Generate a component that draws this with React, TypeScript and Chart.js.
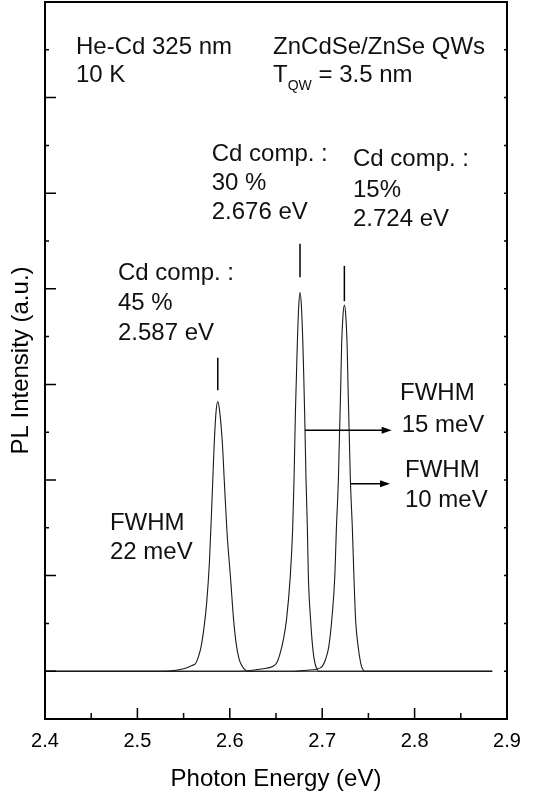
import React, { useEffect, useRef } from "react";
import { Chart, registerables } from "chart.js";

Chart.register(...registerables);

const FONT = "'Liberation Sans', Arial, Helvetica, sans-serif";
const NOTE_SIZE = 24;

// Axis extents
const energyMin = 2.4;
const energyMax = 2.9;
const energyStep = 0.1;
const intensityMin = -0.5;
const intensityMax = 7;
const intensityStep = 0.5;

// PL spectrum, Cd 45 %
const cd45Energy = [
  2.4, 2.527, 2.542, 2.552, 2.559, 2.563, 2.566, 2.569, 2.572, 2.575, 2.578,
  2.581, 2.583, 2.585, 2.587, 2.589, 2.592, 2.594, 2.597, 2.601, 2.604, 2.607,
  2.61, 2.613, 2.616, 2.619, 2.884,
];
const cd45Intensity = [
  0, 0, 0.01, 0.03, 0.06, 0.08, 0.15, 0.26, 0.45, 0.72, 1.15, 1.85, 2.35, 2.7,
  2.82, 2.72, 2.38, 2.0, 1.45, 0.95, 0.55, 0.28, 0.13, 0.06, 0.02, 0, 0,
];

// PL spectrum, Cd 30 %
const cd30Energy = [
  2.4, 2.611, 2.625, 2.636, 2.644, 2.648, 2.651, 2.654, 2.658, 2.6615, 2.6655,
  2.668, 2.6695, 2.671, 2.672, 2.673, 2.6745, 2.676, 2.6775, 2.679, 2.68, 2.681,
  2.6825, 2.684, 2.685, 2.6875, 2.69, 2.692, 2.694, 2.696, 2.884,
];
const cd30Intensity = [
  0, 0, 0.01, 0.025, 0.04, 0.06, 0.09, 0.17, 0.33, 0.55, 1.0, 1.48, 2.0, 2.7,
  3.05, 3.4, 3.8, 3.96, 3.82, 3.45, 3.1, 2.7, 2.0, 1.48, 1.0, 0.53, 0.22, 0.09,
  0.03, 0, 0,
];

// PL spectrum, Cd 15 %
const cd15Energy = [
  2.4, 2.669, 2.683, 2.694, 2.698, 2.7, 2.7035, 2.707, 2.7103, 2.7137, 2.7153,
  2.7175, 2.7202, 2.721, 2.7225, 2.724, 2.7255, 2.727, 2.7278, 2.7305, 2.7327,
  2.7343, 2.7362, 2.739, 2.7425, 2.744, 2.7456, 2.884,
];
const cd15Intensity = [
  0, 0, 0.01, 0.02, 0.035, 0.05, 0.12, 0.25, 0.53, 1.0, 1.48, 2.0, 3.05, 3.4,
  3.72, 3.83, 3.72, 3.4, 3.05, 2.0, 1.48, 1.0, 0.53, 0.25, 0.05, 0.02, 0, 0,
];

// Peak position marks
const peakEnergies = [2.587, 2.676, 2.724];
const peakMarkLow = [2.94, 4.12, 3.87];
const peakMarkHigh = [3.28, 4.47, 4.24];

type Part = { text: string; size?: number; dy?: number };
type Note = { x: number; y: number; parts: Part[] };

const notes: Note[] = [
  { x: 2.4335, y: 6.46, parts: [{ text: "He-Cd 325 nm" }] },
  { x: 2.4335, y: 6.165, parts: [{ text: "10 K" }] },
  { x: 2.6468, y: 6.46, parts: [{ text: "ZnCdSe/ZnSe QWs" }] },
  {
    x: 2.6468,
    y: 6.165,
    parts: [
      { text: "T" },
      { text: "QW", size: 14, dy: 8 },
      { text: " = 3.5 nm" },
    ],
  },
  { x: 2.5804, y: 5.34, parts: [{ text: "Cd comp. :" }] },
  { x: 2.5804, y: 5.03, parts: [{ text: "30 %" }] },
  { x: 2.5804, y: 4.725, parts: [{ text: "2.676 eV" }] },
  { x: 2.7333, y: 5.28, parts: [{ text: "Cd comp. :" }] },
  { x: 2.7333, y: 4.96, parts: [{ text: "15%" }] },
  { x: 2.7333, y: 4.66, parts: [{ text: "2.724 eV" }] },
  { x: 2.479, y: 4.09, parts: [{ text: "Cd comp. :" }] },
  { x: 2.479, y: 3.776, parts: [{ text: "45 %" }] },
  { x: 2.479, y: 3.46, parts: [{ text: "2.587 eV" }] },
  { x: 2.4703, y: 1.475, parts: [{ text: "FWHM" }] },
  { x: 2.4703, y: 1.17, parts: [{ text: "22 meV" }] },
  { x: 2.7842, y: 2.835, parts: [{ text: "FWHM" }] },
  { x: 2.786, y: 2.503, parts: [{ text: "15 meV" }] },
  { x: 2.7896, y: 2.032, parts: [{ text: "FWHM" }] },
  { x: 2.7896, y: 1.72, parts: [{ text: "10 meV" }] },
];

const arrows = [
  { x1: 2.6815, x2: 2.7752, y: 2.52 },
  { x1: 2.7307, x2: 2.7734, y: 1.96 },
];

const toPoints = (xs: number[], ys: number[]) =>
  xs.map((x, i) => ({ x, y: ys[i] }));

const decorPlugin = {
  id: "frameTicksNotes",
  afterDatasetsDraw(chart: any) {
    const { ctx, chartArea: a, scales } = chart;
    const xs = scales.x;
    const ys = scales.y;
    ctx.save();
    ctx.strokeStyle = "#000";
    ctx.fillStyle = "#000";

    // inward tick marks
    ctx.lineWidth = 1.5;
    ctx.beginPath();
    const xv = xs.ticks.map((t: any) => t.value);
    xv.forEach((v: number, i: number) => {
      const px = xs.getPixelForValue(v);
      ctx.moveTo(px, a.bottom);
      ctx.lineTo(px, a.bottom - 11);
      if (i < xv.length - 1) {
        const pm = xs.getPixelForValue((v + xv[i + 1]) / 2);
        ctx.moveTo(pm, a.bottom);
        ctx.lineTo(pm, a.bottom - 6);
      }
    });
    ys.ticks.forEach((t: any) => {
      const py = ys.getPixelForValue(t.value);
      const major = Math.abs(t.value - Math.round(t.value)) < 1e-6;
      ctx.moveTo(a.left, py);
      ctx.lineTo(a.left + (major ? 11 : 4), py);
      ctx.moveTo(a.right, py);
      ctx.lineTo(a.right - 3, py);
    });
    ctx.stroke();

    // frame
    ctx.lineWidth = 2;
    ctx.strokeRect(a.left, a.top, a.right - a.left, a.bottom - a.top);

    // FWHM arrows
    ctx.lineWidth = 1.5;
    arrows.forEach((ar) => {
      const x1 = xs.getPixelForValue(ar.x1);
      const x2 = xs.getPixelForValue(ar.x2);
      const y = ys.getPixelForValue(ar.y);
      ctx.beginPath();
      ctx.moveTo(x1, y);
      ctx.lineTo(x2 - 8, y);
      ctx.stroke();
      ctx.beginPath();
      ctx.moveTo(x2, y);
      ctx.lineTo(x2 - 10, y - 3.5);
      ctx.lineTo(x2 - 10, y + 3.5);
      ctx.closePath();
      ctx.fill();
    });

    // text notes
    ctx.textAlign = "left";
    ctx.textBaseline = "alphabetic";
    ctx.fillStyle = "#111";
    notes.forEach((n) => {
      let x = xs.getPixelForValue(n.x);
      const y = ys.getPixelForValue(n.y);
      n.parts.forEach((p) => {
        ctx.font = `${p.size ?? NOTE_SIZE}px ${FONT}`;
        ctx.fillText(p.text, x, y + (p.dy ?? 0));
        x += ctx.measureText(p.text).width;
      });
    });
    ctx.restore();
  },
};

export default function App() {
  const canvasRef = useRef<HTMLCanvasElement | null>(null);

  useEffect(() => {
    const canvas = canvasRef.current;
    if (!canvas) return;

    const curve = (xs: number[], ys: number[]) => ({
      data: toPoints(xs, ys),
      borderColor: "#1a1a1a",
      borderWidth: 1.1,
      pointRadius: 0,
      fill: false,
      cubicInterpolationMode: "monotone" as const,
    });

    const marks = peakEnergies.map((e, i) => ({
      data: [
        { x: e, y: peakMarkLow[i] },
        { x: e, y: peakMarkHigh[i] },
      ],
      borderColor: "#000",
      borderWidth: 1.5,
      pointRadius: 0,
      fill: false,
    }));

    const chart = new Chart(canvas, {
      type: "line",
      data: {
        datasets: [
          curve(cd45Energy, cd45Intensity),
          curve(cd30Energy, cd30Intensity),
          curve(cd15Energy, cd15Intensity),
          ...marks,
        ] as any,
      },
      options: {
        animation: false,
        responsive: false,
        maintainAspectRatio: false,
        layout: { padding: { top: 2, right: 26, left: 0, bottom: 0 } },
        plugins: {
          legend: { display: false },
          tooltip: { enabled: false },
        },
        scales: {
          x: {
            type: "linear",
            min: energyMin,
            max: energyMax,
            ticks: {
              stepSize: energyStep,
              color: "#000",
              font: { family: FONT, size: 20 },
              padding: 10,
              callback: (v: any) => Number(v).toFixed(1),
            },
            grid: { display: false, drawTicks: false },
            border: { display: false },
            title: {
              display: true,
              text: "Photon Energy (eV)",
              color: "#000",
              font: { family: FONT, size: 24 },
              padding: { top: 0, bottom: 4 },
            },
            afterFit: (s: any) => {
              s.height = 79;
            },
          },
          y: {
            type: "linear",
            min: intensityMin,
            max: intensityMax,
            ticks: { stepSize: intensityStep, display: false },
            grid: { display: false, drawTicks: false },
            border: { display: false },
            title: {
              display: true,
              text: "PL Intensity (a.u.)",
              color: "#000",
              font: { family: FONT, size: 24 },
              padding: { top: 7, bottom: 0 },
            },
            afterFit: (s: any) => {
              s.width = 45;
            },
          },
        },
      },
      plugins: [decorPlugin],
    });

    return () => chart.destroy();
  }, []);

  return (
    <div
      style={{
        position: "absolute",
        left: 0,
        top: 0,
        width: 533,
        height: 798,
        background: "#fff",
      }}
    >
      <canvas ref={canvasRef} width={533} height={798} />
    </div>
  );
}
